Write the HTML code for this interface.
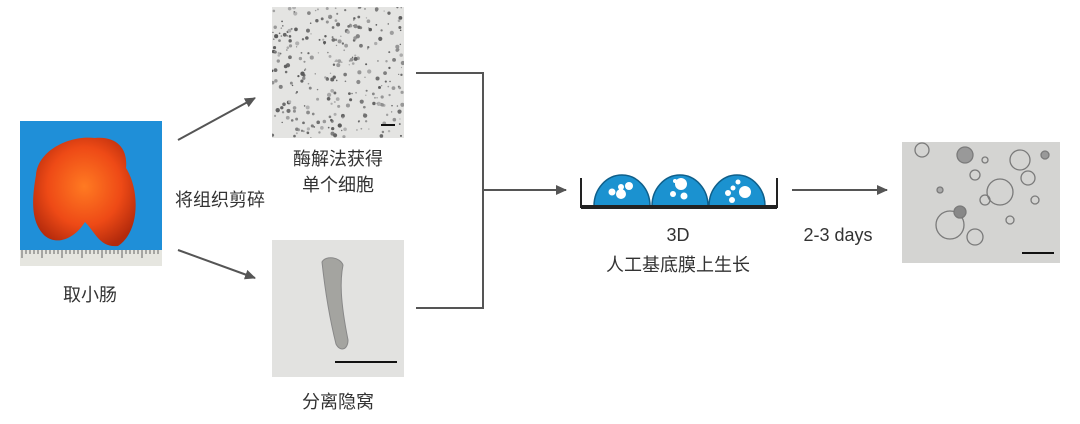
<!DOCTYPE html>
<html><head><meta charset="utf-8"><style>
html,body{margin:0;padding:0;background:#fff;width:1080px;height:424px;overflow:hidden}
svg text{font-family:"Liberation Sans","Noto Sans CJK SC",sans-serif;fill:#333;font-size:18px}
</style></head><body>
<svg id="s" width="1080" height="424" viewBox="0 0 1080 424" xmlns="http://www.w3.org/2000/svg">
<defs>
<marker id="ah" markerWidth="11" markerHeight="10" refX="10" refY="5" orient="auto" markerUnits="userSpaceOnUse"><path d="M0,0 L11,5 L0,10 z" fill="#555"/></marker>
<radialGradient id="tis" cx="50%" cy="45%" r="60%"><stop offset="0" stop-color="#ff7a22"/><stop offset="0.6" stop-color="#ee4a16"/><stop offset="1" stop-color="#b32a0c"/></radialGradient>
<clipPath id="c1"><rect x="272" y="7" width="132" height="131"/></clipPath>
<clipPath id="c3"><rect x="902" y="142" width="158" height="121"/></clipPath>
</defs>
<rect x="20" y="121" width="142" height="145" fill="#1f8fd8"/>
<path d="M36,175 C38,150 70,135 95,138 C118,136 128,150 126,168 C140,190 140,232 118,246 C100,248 95,232 85,222 C75,238 58,246 45,236 C30,222 32,198 36,175z" fill="url(#tis)"/>
<rect x="20" y="250" width="142" height="16" fill="#e6e6e0"/>
<g stroke="#666" stroke-width="1" id="ruler"></g>
<text x="90" y="301" text-anchor="middle">取小肠</text>
<line x1="178" y1="140" x2="255" y2="98" stroke="#555" stroke-width="2" marker-end="url(#ah)"/>
<line x1="178" y1="250" x2="255" y2="278" stroke="#555" stroke-width="2" marker-end="url(#ah)"/>
<text x="220" y="206" text-anchor="middle">将组织剪碎</text>
<rect x="272" y="7" width="132" height="131" fill="#e4e4e2"/>
<g id="sp1" clip-path="url(#c1)"></g>
<rect x="381" y="124" width="14" height="2" fill="#111"/>
<text x="338" y="165" text-anchor="middle">酶解法获得</text>
<text x="338" y="191" text-anchor="middle">单个细胞</text>
<rect x="272" y="240" width="132" height="137" fill="#e2e2e0"/>
<path d="M322,262 C326,255 340,257 343,265 C340,280 340,300 348,340 C348,350 340,352 336,344 C330,320 325,290 322,262z" fill="#a4a4a0" stroke="#888" stroke-width="1"/>
<rect x="335" y="361" width="62" height="2" fill="#111"/>
<text x="338" y="408" text-anchor="middle">分离隐窝</text>
<path d="M416,73 H483 V308 H416" fill="none" stroke="#555" stroke-width="2"/>
<line x1="483" y1="190" x2="566" y2="190" stroke="#555" stroke-width="2" marker-end="url(#ah)"/>
<g fill="#1b92d0" stroke="#0f5f8a" stroke-width="1.5">
<path d="M594,206 A28,31 0 0 1 650,206z"/>
<path d="M652,206 A28,31 0 0 1 708,206z"/>
<path d="M709,206 A28,31 0 0 1 765,206z"/>
</g>
<g fill="#fff">
<circle cx="612" cy="192" r="3.5"/><circle cx="621" cy="187" r="3"/><circle cx="629" cy="186" r="4"/><circle cx="621" cy="194" r="5"/>
<circle cx="673" cy="194" r="3"/><circle cx="681" cy="184" r="6"/><circle cx="684" cy="196" r="3.5"/><circle cx="675" cy="181" r="2"/>
<circle cx="728" cy="193" r="3"/><circle cx="733" cy="188" r="2.5"/><circle cx="738" cy="182" r="2.5"/><circle cx="745" cy="192" r="6"/><circle cx="732" cy="200" r="3"/>
</g>
<path d="M581,178 V207 H777 V178" fill="none" stroke="#222" stroke-width="2"/>
<rect x="581" y="205" width="196" height="4" fill="#222"/>
<text x="678" y="241" text-anchor="middle">3D</text>
<text x="678" y="271" text-anchor="middle">人工基底膜上生长</text>
<line x1="792" y1="190" x2="887" y2="190" stroke="#555" stroke-width="2" marker-end="url(#ah)"/>
<text x="838" y="241" text-anchor="middle">2-3 days</text>
<rect x="902" y="142" width="158" height="121" fill="#d4d4d2"/>
<g clip-path="url(#c3)" fill="none" stroke="#7a7a7a" stroke-width="1.3">
<circle cx="1000" cy="192" r="13"/><circle cx="1020" cy="160" r="10"/><circle cx="1028" cy="178" r="7"/><circle cx="950" cy="225" r="14"/>
<circle cx="975" cy="237" r="8"/><circle cx="965" cy="155" r="8" fill="#999"/><circle cx="960" cy="212" r="6" fill="#888"/><circle cx="922" cy="150" r="7"/>
<circle cx="985" cy="200" r="5"/><circle cx="1035" cy="200" r="4"/><circle cx="940" cy="190" r="3" fill="#aaa"/><circle cx="975" cy="175" r="5"/>
<circle cx="1010" cy="220" r="4"/><circle cx="985" cy="160" r="3"/><circle cx="1045" cy="155" r="4" fill="#999"/>
</g>
<rect x="1022" y="252" width="32" height="2" fill="#111"/>
</svg>
<script>
var ns="http://www.w3.org/2000/svg",g=document.getElementById("sp1"),s=7;
function r(){s=(s*9301+49297)%233280;return s/233280;}
for(var i=0;i<300;i++){var c=document.createElementNS(ns,"circle");c.setAttribute("cx",272+r()*132);c.setAttribute("cy",7+r()*131);c.setAttribute("r",0.6+r()*1.6);var v=(90+r()*90|0);c.setAttribute("fill","rgb("+v+","+v+","+v+")");g.appendChild(c);}
var ru=document.getElementById("ruler");
for(var x=22;x<160;x+=4){var l=document.createElementNS(ns,"line");l.setAttribute("x1",x);l.setAttribute("x2",x);l.setAttribute("y1",250);l.setAttribute("y2",(x-22)%20==0?258:254);ru.appendChild(l);}
</script>
</body></html>
